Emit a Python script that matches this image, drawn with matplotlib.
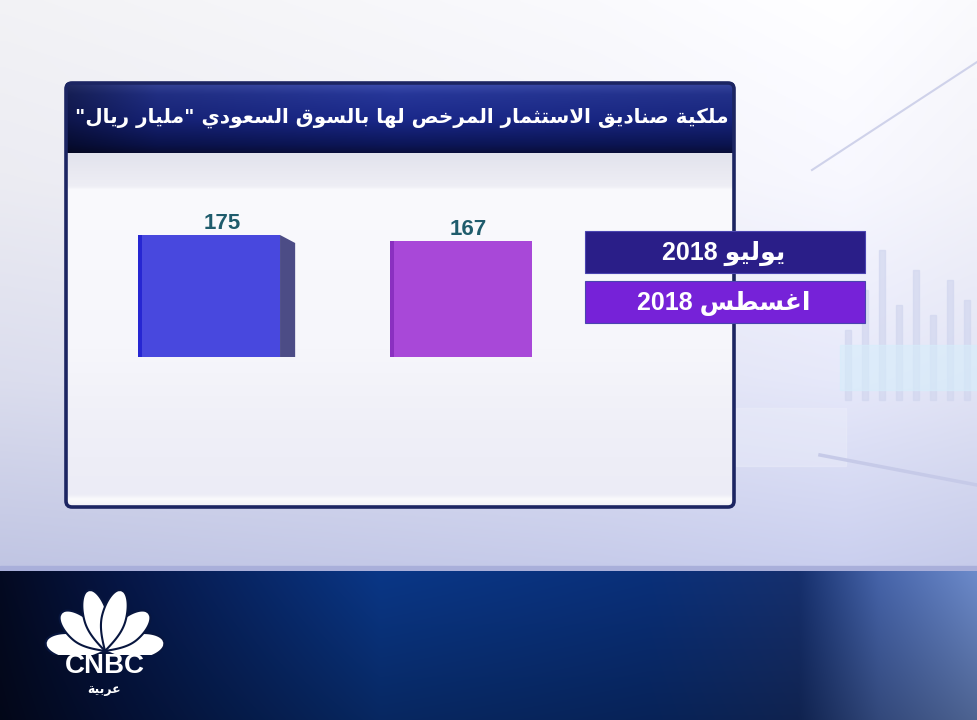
import re
import numpy as np
import matplotlib
matplotlib.use("Agg")
import matplotlib.pyplot as plt
from matplotlib.patches import Rectangle, Polygon, FancyBboxPatch

# chart data
title = 'ملكية صناديق الاستثمار المرخص لها بالسوق السعودي "مليار ريال"'
periods = ['يوليو 2018', 'اغسطس 2018']
values = [175, 167]
bar_colors = ['#4848de', '#a848d8']
edge_colors = ['#2626d2', '#8a30c0']
legend_colors = ['#2a1e88', '#7622d8']
logo_sub = 'عربية'

# --- tiny arabic shaper (matplotlib has no bidi / joining) ---
FORMS = {
    'ا': (0xFE8D, 2), 'ب': (0xFE8F, 4), 'ة': (0xFE93, 2), 'ت': (0xFE95, 4),
    'ث': (0xFE99, 4), 'ج': (0xFE9D, 4), 'ح': (0xFEA1, 4), 'خ': (0xFEA5, 4),
    'د': (0xFEA9, 2), 'ذ': (0xFEAB, 2), 'ر': (0xFEAD, 2), 'ز': (0xFEAF, 2),
    'س': (0xFEB1, 4), 'ش': (0xFEB5, 4), 'ص': (0xFEB9, 4), 'ض': (0xFEBD, 4),
    'ط': (0xFEC1, 4), 'ظ': (0xFEC5, 4), 'ع': (0xFEC9, 4), 'غ': (0xFECD, 4),
    'ف': (0xFED1, 4), 'ق': (0xFED5, 4), 'ك': (0xFED9, 4), 'ل': (0xFEDD, 4),
    'م': (0xFEE1, 4), 'ن': (0xFEE5, 4), 'ه': (0xFEE9, 4), 'و': (0xFEED, 2),
    'ى': (0xFEEF, 2), 'ي': (0xFEF1, 4), 'لا': (0xFEFB, 2),
}


def ar(s):
    units, i = [], 0
    while i < len(s):
        if s[i] == 'ل' and s[i + 1:i + 2] == 'ا':
            units.append('لا')
            i += 2
        else:
            units.append(s[i])
            i += 1
    out = []
    for k, u in enumerate(units):
        if u not in FORMS:
            out.append(u)
            continue
        start, n = FORMS[u]
        prev = k > 0 and units[k - 1] in FORMS and FORMS[units[k - 1]][1] == 4
        nxt = n == 4 and k + 1 < len(units) and units[k + 1] in FORMS
        if prev and nxt:
            form = 3
        elif prev:
            form = 1
        elif nxt:
            form = 2
        else:
            form = 0
        out.append(chr(start + form))
    vis = ''.join(out)[::-1]
    return re.sub(r'[0-9A-Za-z]+', lambda m: m.group(0)[::-1], vis)


def ramp(stops, n):
    pos = np.array([s[0] for s in stops], float)
    cols = np.array([s[1] for s in stops], float) / 255
    t = np.linspace(pos[0], pos[-1], n)
    return np.stack([np.interp(t, pos, cols[:, k]) for k in range(3)], axis=-1)


def factor(stops, n):
    pos = [s[0] for s in stops]
    t = np.linspace(pos[0], pos[-1], n)
    return np.interp(t, pos, [s[1] for s in stops])


W, H = 977, 720
fig = plt.figure(figsize=(W / 100, H / 100), dpi=100)
bg = fig.add_axes([0, 0, 1, 1])
bg.set_xlim(0, W)
bg.set_ylim(H, 0)
bg.axis('off')

# studio backdrop
sky = ramp([(0, (250, 250, 253)), (180, (243, 243, 250)), (380, (226, 228, 245)),
            (570, (198, 203, 234))], 300)
skyh = factor([(0, 0.97), (600, 1.0), (850, 1.02), (977, 1.0)], 100)
img = np.clip(sky[:, None, :] * skyh[None, :, None], 0, 1)
bg.imshow(img, extent=(0, W, 570, 0), aspect='auto', interpolation='bilinear', zorder=0)

# faint backdrop chart on the right
for xb, hb in [(845, 70), (862, 110), (879, 150), (896, 95), (913, 130), (930, 85), (947, 120), (964, 100)]:
    bg.add_patch(Rectangle((xb, 400 - hb), 6, hb, color='#d2d7ef', alpha=0.7, zorder=1))
bg.add_patch(Rectangle((840, 345), 137, 45, color='#d6eefb', alpha=0.6, zorder=1))
bg.add_patch(Rectangle((736, 408), 110, 58, color='#eef0fb', alpha=0.4, zorder=1))
bg.plot([812, 977], [170, 62], color='#cfd2ea', lw=1.5, zorder=1)
bg.plot([820, 977], [455, 485], color='#c6cae8', lw=2.5, zorder=1)

# bottom band
bg.add_patch(Rectangle((0, 566), W, 6, color='#a9afda', zorder=1))
band_h = ramp([(0, (4, 10, 34)), (120, (6, 22, 70)), (380, (10, 55, 135)),
               (650, (10, 48, 122)), (800, (22, 48, 110)), (880, (70, 100, 170)),
               (977, (108, 138, 202))], 400)
fade = np.linspace(1.0, 0.72, 150)[:, None, None]
bg.imshow(np.clip(band_h[None, :, :] * fade, 0, 1), extent=(0, W, H, 571),
          aspect='auto', interpolation='bilinear', zorder=1)

# panel
x0, x1, y0, y1 = 66, 734, 83, 507
area = ramp([(153, (226, 227, 237)), (170, (233, 233, 241)), (186, (238, 238, 245)),
             (189, (250, 250, 253)), (350, (246, 246, 251)), (420, (240, 240, 248)),
             (495, (236, 236, 246)), (500, (250, 250, 252)), (507, (242, 242, 248))], 200)
bg.imshow(area[:, None, :], extent=(x0, x1, y1, 153), aspect='auto',
          interpolation='bilinear', zorder=2)
tv = ramp([(84, (62, 78, 175)), (95, (38, 54, 152)), (120, (26, 40, 138)),
           (145, (12, 22, 88)), (153, (10, 15, 62))], 80)
th = factor([(0, 0.55), (90, 0.85), (330, 1.0), (668, 0.9)], 200)
bg.imshow(np.clip(tv[:, None, :] * th[None, :, None], 0, 1), extent=(x0, x1, 153, y0),
          aspect='auto', interpolation='bilinear', zorder=2)
bg.add_patch(FancyBboxPatch((x0, y0), x1 - x0, y1 - y0,
                            boxstyle='round,pad=0,rounding_size=6',
                            fc='none', ec='#1c2562', lw=2.6, zorder=3))

t = bg.text(729, 118, ar(title), ha='right', va='center', color='white',
            fontsize=20, fontweight='bold', family=['DejaVu Sans'], zorder=4)
r = fig.canvas.get_renderer()
t.set_fontsize(20 * 654 / t.get_window_extent(r).width)

# legend boxes
for k, (lab, col) in enumerate(zip(periods, legend_colors)):
    top = 231 + k * 50
    bg.add_patch(Rectangle((585, top), 280, 42, fc=col, ec='#4a44b0', lw=0.8, zorder=5))
    bg.text(724, top + 22, ar(lab), ha='center', va='center', color='white',
            fontsize=18, fontweight='bold', family=['Liberation Sans', 'DejaVu Sans'], zorder=6)

# CNBC logo: six fat feathers fanning from one point, flat at the bottom
base = np.array([105.0, 651.0])
tt = np.linspace(0, 1, 80)
c = 0.55
prof = np.where(tt < c, np.sin(0.5 * np.pi * tt / c),
                np.sqrt(np.clip(1 - ((tt - c) / (1 - c)) ** 2, 0, 1)))
clip = Rectangle((0, 0), W, 655, transform=bg.transData)
for a, L, hw in [(172, 60, 13), (8, 60, 13), (139, 58, 12.5),
                 (41, 58, 12.5), (105, 63, 12), (75, 63, 12)]:
    d = np.array([np.cos(np.radians(a)), -np.sin(np.radians(a))])
    nrm = np.array([-d[1], d[0]])
    axis_pts = base + np.outer(tt * L, d)
    left = axis_pts + np.outer(prof * hw, nrm)
    right = axis_pts - np.outer(prof * hw, nrm)
    p = Polygon(np.vstack([left, right[::-1]]), closed=True, fc='white',
                ec='#08163f', lw=1.5, zorder=6)
    bg.add_patch(p)
    p.set_clip_path(clip)
bg.text(105, 666, 'CNBC', ha='center', va='center', color='white', fontsize=20,
        fontweight='bold', family=['Liberation Sans'], zorder=7)
bg.text(104, 690, ar(logo_sub), ha='center', va='center', color='white', fontsize=9,
        fontweight='bold', family=['DejaVu Sans'], zorder=7)

# bar chart
ax = fig.add_axes([67 / W, (H - 505) / H, 666 / W, 352 / H])
ax.patch.set_alpha(0)
ax.axis('off')
ax.set_xlim(-0.5635, 2.079)
ax.set_ylim(-212.3, 292.6)

x = np.arange(len(values))
bw = 0.5635
depth = [0.06, 0.0]
ax.bar(x, values, width=bw, color=bar_colors, zorder=3)
ax.bar(x - bw / 2 + 0.008, values, width=0.016, color=edge_colors, zorder=4)
for xi, v, dx in zip(x, values, depth):
    if dx > 0:
        xr = xi + bw / 2
        ax.add_patch(Polygon([(xr, v), (xr + dx, v - 11.5), (xr + dx, 0), (xr, 0)],
                             closed=True, fc='#4c4c86', zorder=2))
label_dx = [0.052, 0.028]
for xi, v, dx in zip(x, values, label_dx):
    ax.text(xi + dx, v + 1, str(v), ha='center', va='bottom', fontsize=16,
            fontweight='bold', color='#1f5c6c', family=['Liberation Sans'], zorder=5)

fig.savefig('out.png', dpi=100)
